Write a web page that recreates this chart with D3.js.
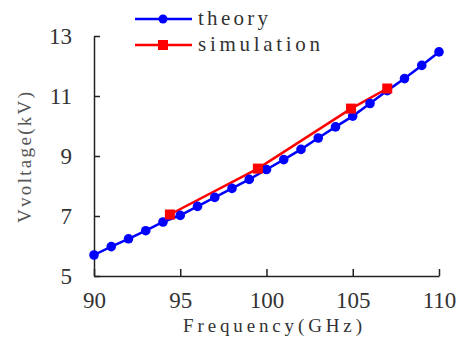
<!DOCTYPE html>
<html>
<head>
<meta charset="utf-8">
<script src="https://cdn.jsdelivr.net/npm/d3@7"></script>
<style>
  html, body { margin: 0; padding: 0; background: #fff; }
  svg { display: block; }
</style>
</head>
<body>
<svg id="chart" width="460" height="345"></svg>
<script>
// Theory curve: voltage vs frequency, one point per GHz
const theoryFreq = [90, 91, 92, 93, 94, 95, 96, 97, 98, 99, 100,
                    101, 102, 103, 104, 105, 106, 107, 108, 109, 110];
const theoryVolt = [5.70, 5.98, 6.24, 6.51, 6.80, 7.02, 7.32, 7.62, 7.92, 8.22, 8.55,
                    8.88, 9.22, 9.60, 9.97, 10.33, 10.75, 11.18, 11.58, 12.02, 12.47];

// Simulation results
const simFreq = [94.4, 99.5, 104.9, 107.0];
const simVolt = [7.05, 8.58, 10.58, 11.25];

const xTicks = [90, 95, 100, 105, 110];
const yTicks = [5, 7, 9, 11, 13];

const svg = d3.select("#chart");
const x = d3.scaleLinear().domain([90, 110]).range([94, 439]);
const y = d3.scaleLinear().domain([5, 13]).range([276, 36]);

const serif = "'Liberation Serif', 'DejaVu Serif', serif";
const textColor = "#333";

// X axis (ticks point inward)
const xAxis = svg.append("g").attr("transform", "translate(0,276)")
  .call(d3.axisBottom(x).tickValues(xTicks).tickSize(-7).tickSizeOuter(0));
xAxis.select(".domain").attr("stroke", "#222").attr("stroke-width", 1.5);
xAxis.selectAll(".tick line").attr("stroke", "#222").attr("stroke-width", 1.5);
xAxis.selectAll(".tick text")
  .attr("font-family", serif).attr("font-size", 23).attr("fill", textColor)
  .attr("y", 32).attr("dy", null);

// Y axis (ticks point inward)
const yAxis = svg.append("g").attr("transform", "translate(94,0)")
  .call(d3.axisLeft(y).tickValues(yTicks).tickSize(-6).tickSizeOuter(0).tickPadding(22));
yAxis.select(".domain").attr("stroke", "#222").attr("stroke-width", 1.5);
yAxis.selectAll(".tick line").attr("stroke", "#222").attr("stroke-width", 1.5);
yAxis.selectAll(".tick text")
  .attr("font-family", serif).attr("font-size", 23).attr("fill", textColor)
  .attr("dy", "0.34em");

// Axis titles
svg.append("text")
  .attr("x", 183).attr("y", 332)
  .attr("textLength", 179).attr("lengthAdjust", "spacing")
  .attr("font-family", serif).attr("font-size", 19).attr("fill", textColor)
  .text("Frequency(GHz)");

svg.append("text")
  .attr("transform", "translate(31,223) rotate(-90)")
  .attr("textLength", 131).attr("lengthAdjust", "spacing")
  .attr("font-family", serif).attr("font-size", 19).attr("fill", "#555")
  .text("Vvoltage(kV)");

const line = d3.line().x(d => x(d[0])).y(d => y(d[1]));
const theory = theoryFreq.map((f, i) => [f, theoryVolt[i]]);
const sim = simFreq.map((f, i) => [f, simVolt[i]]);

// Simulation series
svg.append("path").datum(sim)
  .attr("d", line).attr("fill", "none")
  .attr("stroke", "#ff0000").attr("stroke-width", 2.5);

// Theory series
svg.append("path").datum(theory)
  .attr("d", line).attr("fill", "none")
  .attr("stroke", "#0000ff").attr("stroke-width", 2.5);
svg.append("g").selectAll("circle").data(theory).join("circle")
  .attr("cx", d => x(d[0])).attr("cy", d => y(d[1])).attr("r", 4.8)
  .attr("fill", "#0000ff");

svg.append("g").selectAll("rect").data(sim).join("rect")
  .attr("x", d => x(d[0]) - 5).attr("y", d => y(d[1]) - 5)
  .attr("width", 10).attr("height", 10)
  .attr("fill", "#ff0000");

// Legend
const legend = svg.append("g");
legend.append("line").attr("x1", 135).attr("x2", 192).attr("y1", 19).attr("y2", 19)
  .attr("stroke", "#0000ff").attr("stroke-width", 2.5);
legend.append("circle").attr("cx", 163).attr("cy", 19).attr("r", 4.5).attr("fill", "#0000ff");
legend.append("text").attr("x", 198).attr("y", 25)
  .attr("textLength", 70).attr("lengthAdjust", "spacing")
  .attr("font-family", serif).attr("font-size", 21).attr("fill", textColor)
  .text("theory");

legend.append("line").attr("x1", 135).attr("x2", 192).attr("y1", 45).attr("y2", 45)
  .attr("stroke", "#ff0000").attr("stroke-width", 2.5);
legend.append("rect").attr("x", 158).attr("y", 40).attr("width", 10).attr("height", 10)
  .attr("fill", "#ff0000");
legend.append("text").attr("x", 198).attr("y", 51)
  .attr("textLength", 122).attr("lengthAdjust", "spacing")
  .attr("font-family", serif).attr("font-size", 21).attr("fill", textColor)
  .text("simulation");
</script>
</body>
</html>
